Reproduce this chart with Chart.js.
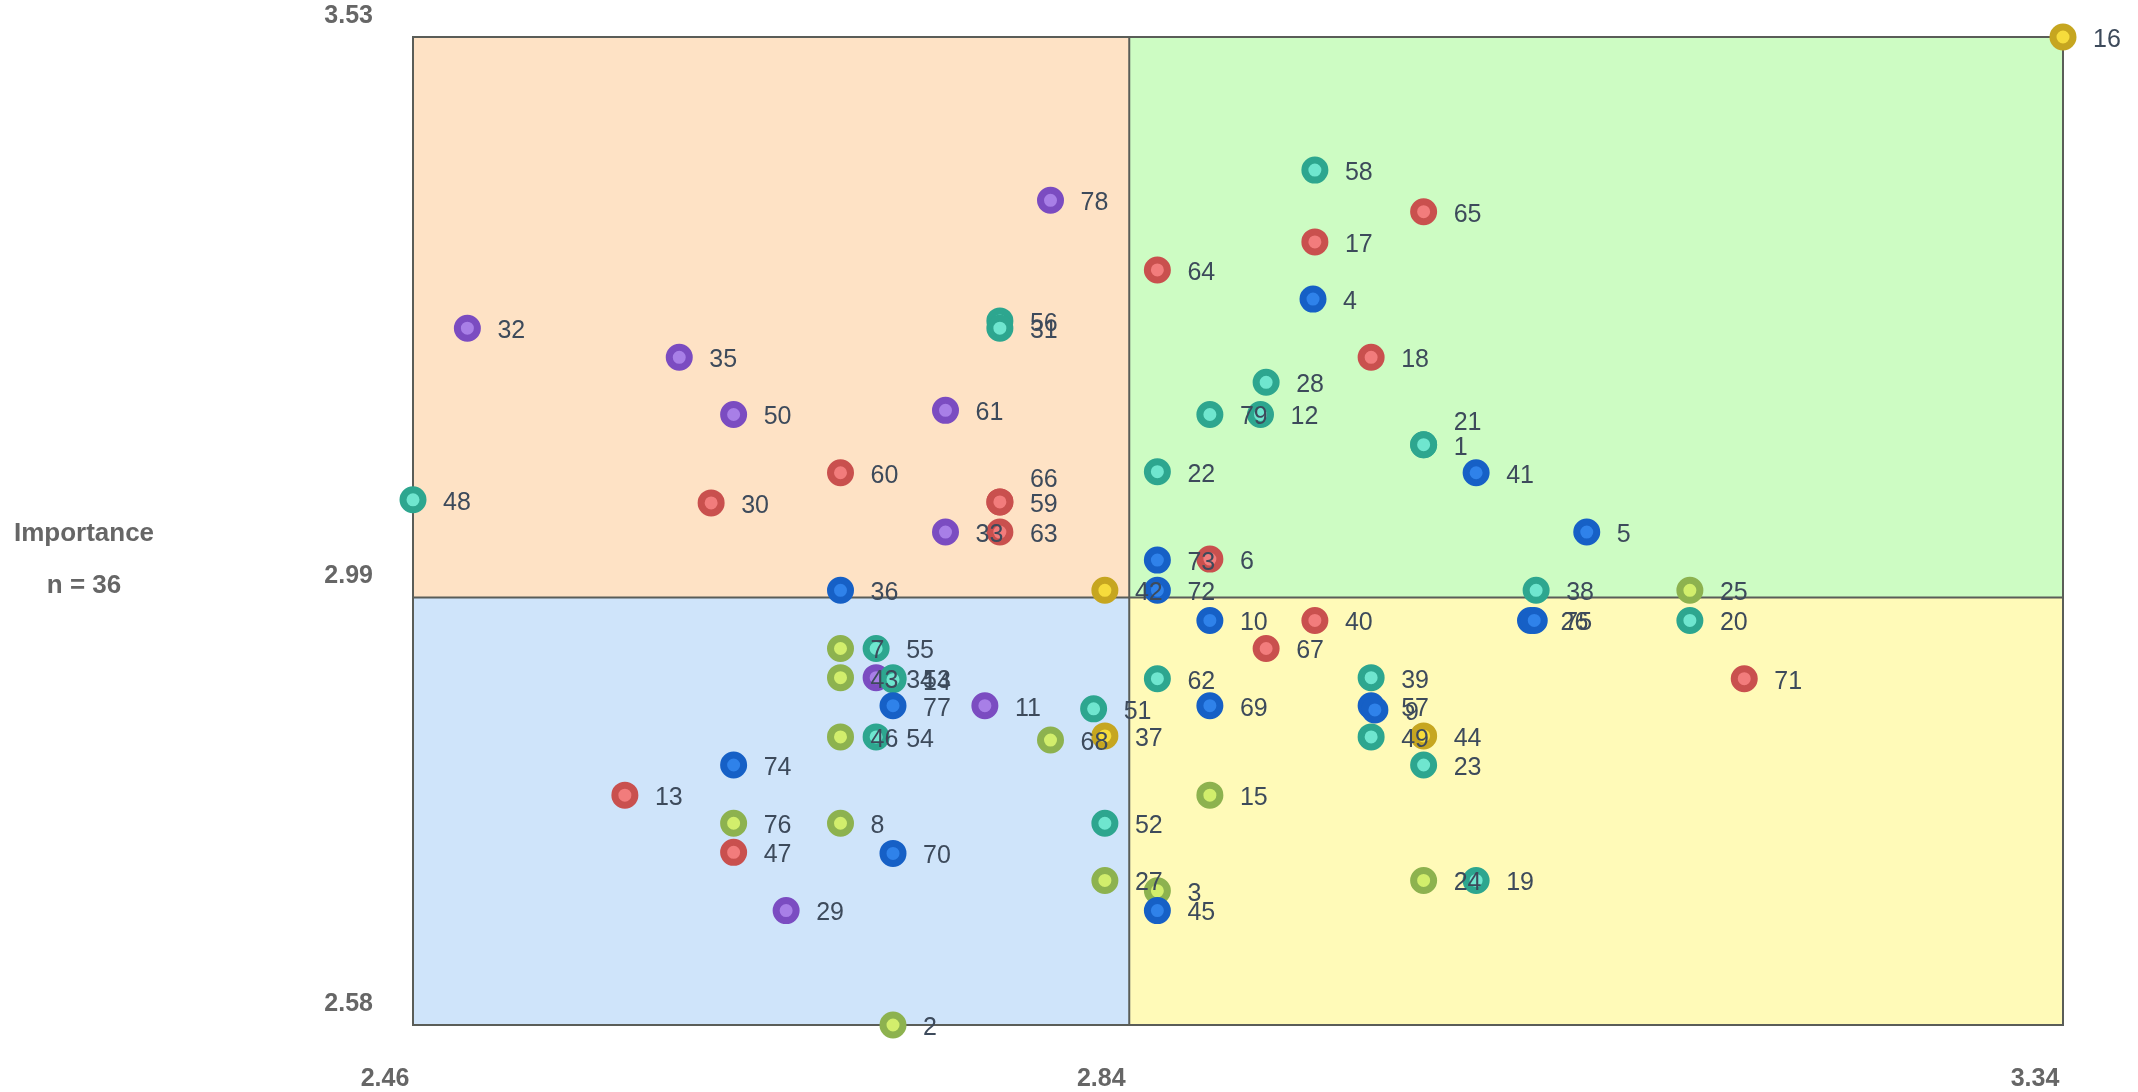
<!DOCTYPE html>
<html>
<head>
<meta charset="utf-8">
<title>Importance quadrant</title>
<script src="https://cdn.jsdelivr.net/npm/chart.js@4.4.1/dist/chart.umd.min.js"></script>
<style>
  html, body { margin: 0; padding: 0; background: #fff; }
</style>
</head>
<body>
<canvas id="chart" width="2138" height="1092"></canvas>
<script>
// axis bounds, split lines (the means) and the tick labels that are shown
const xMid = 2.842;
const yMid = 2.991;
const xTicks = [2.46, xMid, 3.34];
const yTicks = [2.58, yMid, 3.53];
const sideTitle = ['Importance', 'n = 36'];

// items, grouped by colour
const blueIds = [4, 41, 5, 73, 72, 36, 10, 26, 75, 69, 57, 9, 77, 74, 70, 45];
const blueX = [2.940, 3.027, 3.086, 2.857, 2.857, 2.688, 2.885, 3.056, 3.058, 2.885, 2.971, 2.973, 2.716, 2.631, 2.716, 2.857];
const blueY = [3.278, 3.111, 3.054, 3.027, 2.998, 2.998, 2.969, 2.969, 2.969, 2.887, 2.887, 2.883, 2.887, 2.830, 2.745, 2.690];

const goldIds = [16, 42, 37, 44];
const goldX = [3.340, 2.829, 2.829, 2.999];
const goldY = [3.530, 2.998, 2.858, 2.858];

const tealIds = [48, 56, 31, 58, 28, 79, 12, 21, 1, 22, 38, 20, 55, 53, 14, 54, 51, 52, 62, 39, 49, 23, 19];
const tealX = [2.460, 2.773, 2.773, 2.941, 2.915, 2.885, 2.912, 2.999, 2.999, 2.857, 3.059, 3.141, 2.707, 2.716, 2.716, 2.707, 2.823, 2.829, 2.857, 2.971, 2.971, 2.999, 3.027];
const tealY = [3.085, 3.257, 3.250, 3.402, 3.198, 3.167, 3.167, 3.138, 3.138, 3.112, 2.998, 2.969, 2.942, 2.914, 2.912, 2.857, 2.884, 2.774, 2.913, 2.914, 2.857, 2.830, 2.719];

const redIds = [60, 30, 59, 66, 63, 64, 65, 17, 18, 6, 40, 67, 71, 13, 47];
const redX = [2.688, 2.619, 2.773, 2.773, 2.773, 2.857, 2.999, 2.941, 2.971, 2.885, 2.941, 2.915, 3.170, 2.573, 2.631];
const redY = [3.111, 3.082, 3.083, 3.083, 3.054, 3.306, 3.362, 3.333, 3.222, 3.028, 2.969, 2.942, 2.913, 2.801, 2.746];

const greenIds = [7, 43, 46, 68, 76, 8, 27, 3, 15, 24, 25, 2];
const greenX = [2.688, 2.688, 2.688, 2.800, 2.631, 2.688, 2.829, 2.857, 2.885, 2.999, 3.141, 2.716];
const greenY = [2.942, 2.914, 2.857, 2.854, 2.774, 2.774, 2.719, 2.709, 2.801, 2.719, 2.998, 2.580];

const purpleIds = [32, 35, 50, 61, 78, 33, 34, 11, 29];
const purpleX = [2.489, 2.602, 2.631, 2.744, 2.800, 2.744, 2.707, 2.765, 2.659];
const purpleY = [3.250, 3.222, 3.167, 3.171, 3.373, 3.054, 2.914, 2.887, 2.690];

const FONT = '"Liberation Sans", Arial, Helvetica, sans-serif';

function points(ids, xs, ys) {
    return ids.map((id, i) => ({ x: xs[i], y: ys[i], id: id }));
}

function group(label, ids, xs, ys, ring, core) {
    return {
        label: label,
        data: points(ids, xs, ys),
        backgroundColor: core,
        borderColor: ring,
        borderWidth: 7,
        pointRadius: 10,
        pointHoverRadius: 10,
        pointHoverBorderWidth: 7,
        clip: false
    };
}

/* ==== quadrant fills and frame ==== */
const quadrants = {
    id: 'quadrants',
    beforeDatasetsDraw(chart) {
        const { ctx, chartArea: a, scales: { x, y } } = chart;
        const mx = x.getPixelForValue(xMid);
        const my = y.getPixelForValue(yMid);
        ctx.save();
        ctx.fillStyle = '#fee2c5';
        ctx.fillRect(a.left, a.top, mx - a.left, my - a.top);
        ctx.fillStyle = '#cdfcc3';
        ctx.fillRect(mx, a.top, a.right - mx, my - a.top);
        ctx.fillStyle = '#cfe4fa';
        ctx.fillRect(a.left, my, mx - a.left, a.bottom - my);
        ctx.fillStyle = '#fffab8';
        ctx.fillRect(mx, my, a.right - mx, a.bottom - my);
        ctx.strokeStyle = '#5a5d58';
        ctx.lineWidth = 2;
        ctx.strokeRect(a.left, a.top, a.width, a.height);
        ctx.beginPath();
        ctx.moveTo(mx, a.top);
        ctx.lineTo(mx, a.bottom);
        ctx.moveTo(a.left, my);
        ctx.lineTo(a.right, my);
        ctx.stroke();
        ctx.restore();
    }
};

/* ==== item numbers next to each point ==== */
const pointLabels = {
    id: 'pointLabels',
    afterDatasetsDraw(chart) {
        const ctx = chart.ctx;
        const items = [];
        chart.data.datasets.forEach((ds, di) => {
            chart.getDatasetMeta(di).data.forEach((el, i) => {
                const d = ds.data[i];
                items.push({ id: d.id, key: d.x + ',' + d.y, px: el.x, py: el.y });
            });
        });
        items.sort((a, b) => a.id - b.id);
        const seen = {};
        ctx.save();
        ctx.font = '25px ' + FONT;
        ctx.fillStyle = '#3d4a5b';
        ctx.textAlign = 'left';
        ctx.textBaseline = 'middle';
        items.forEach(p => {
            // same spot as an earlier item: lift the label so both stay readable
            const n = seen[p.key] || 0;
            seen[p.key] = n + 1;
            ctx.fillText(String(p.id), p.px + 30, p.py + 3 - n * 25);
        });
        ctx.restore();
    }
};

/* ==== horizontal y title on the left ==== */
const sideTitlePlugin = {
    id: 'sideTitle',
    afterDraw(chart) {
        const ctx = chart.ctx;
        ctx.save();
        ctx.font = 'bold 26px ' + FONT;
        ctx.fillStyle = '#666666';
        ctx.textAlign = 'center';
        ctx.textBaseline = 'middle';
        ctx.fillText(sideTitle[0], 84, 534);
        ctx.fillText(sideTitle[1], 84, 586);
        ctx.restore();
    }
};

window.addEventListener('DOMContentLoaded', () => {
    new Chart(document.getElementById('chart'), {
        type: 'scatter',
        data: {
            datasets: [
                group('blue', blueIds, blueX, blueY, '#1660c6', '#2f82ea'),
                group('gold', goldIds, goldX, goldY, '#c6a620', '#f6dc3c'),
                group('teal', tealIds, tealX, tealY, '#2da68f', '#6fe6cf'),
                group('red', redIds, redX, redY, '#c9504e', '#f27c7c'),
                group('green', greenIds, greenX, greenY, '#8db24f', '#d2ee6c'),
                group('purple', purpleIds, purpleX, purpleY, '#7b4cc1', '#a87fe7')
            ]
        },
        options: {
            responsive: false,
            animation: false,
            layout: { padding: { top: 37, right: 75, bottom: 0, left: 0 } },
            plugins: {
                legend: { display: false },
                tooltip: { enabled: false }
            },
            scales: {
                x: {
                    type: 'linear',
                    min: xTicks[0],
                    max: xTicks[xTicks.length - 1],
                    grid: { display: false, drawTicks: false },
                    border: { display: false },
                    afterBuildTicks: s => { s.ticks = xTicks.map(v => ({ value: v })); },
                    afterFit: s => { s.height = 67; },
                    ticks: {
                        autoSkip: false,
                        maxRotation: 0,
                        padding: 39,
                        labelOffset: -28,
                        color: '#666666',
                        font: { family: FONT, size: 25, weight: 'bold' },
                        callback: v => Number(v).toFixed(2)
                    }
                },
                y: {
                    type: 'linear',
                    min: yTicks[0],
                    max: yTicks[yTicks.length - 1],
                    grid: { display: false, drawTicks: false },
                    border: { display: false },
                    afterBuildTicks: s => { s.ticks = yTicks.map(v => ({ value: v })); },
                    afterFit: s => {
                        s.width = 413;
                        // the label padding is horizontal only; do not let it push the plot down
                        s.paddingTop = 0;
                        s.paddingBottom = 0;
                    },
                    ticks: {
                        autoSkip: false,
                        padding: 40,
                        labelOffset: -21,
                        color: '#666666',
                        font: { family: FONT, size: 25, weight: 'bold' },
                        callback: v => Number(v).toFixed(2)
                    }
                }
            }
        },
        plugins: [quadrants, pointLabels, sideTitlePlugin]
    });
});
</script>
</body>
</html>
